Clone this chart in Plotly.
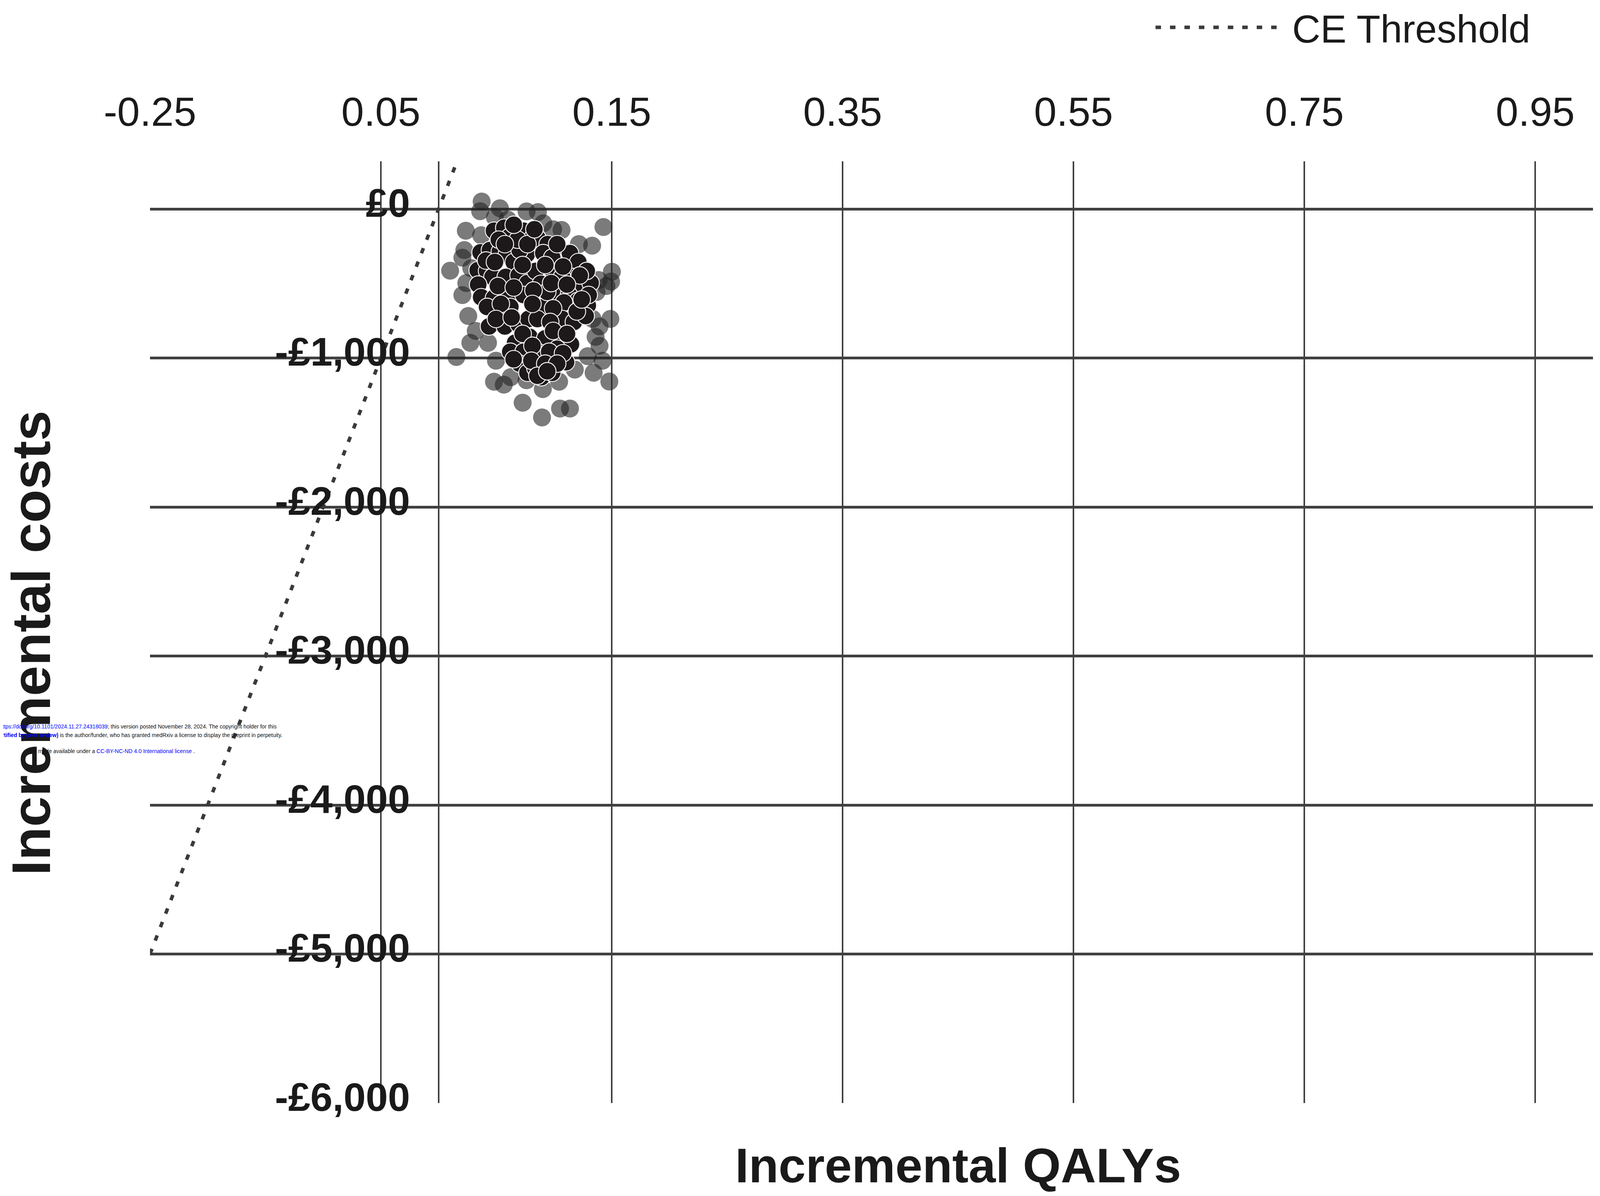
import plotly.graph_objects as go

# ---------------- data ----------------
# Probabilistic sensitivity analysis – outer (semi-transparent) simulations
grey_qaly = [0.0373, 0.0360, 0.0531, 0.0488, 0.0599, 0.0762, 0.0860, 0.0907, 0.0992, 0.1065,
             0.1428, 0.1215, 0.1330, 0.1386, 0.1501, 0.1454, 0.1368, 0.1488, 0.1334, 0.1394,
             0.1360, 0.1394, 0.1292, 0.1420, 0.1343, 0.1479, 0.1180, 0.0236, 0.0369, 0.0223,
             0.0206, 0.0283, 0.0100, 0.0206, 0.0257, 0.0322, 0.0275, 0.0428, 0.0154, 0.0497,
             0.0480, 0.0565, 0.0625, 0.0728, 0.0762, 0.0903, 0.0896, 0.1052, 0.1138, 0.1044,
             0.0240, 0.1494]
grey_cost = [50, -15, 5, -56, -71, -16, -21, -96, -136, -141,
             -121, -236, -246, -477, -421, -517, -557, -738, -738, -788,
             -858, -918, -988, -1018, -1099, -1158, -1078, -146, -176, -276,
             -327, -397, -414, -578, -718, -818, -898, -898, -993, -1018,
             -1159, -1179, -1129, -1300, -1149, -1209, -1399, -1339, -1339, -1159,
             -497, -487]

# Inner (solid) simulations
black_qaly = [0.0480, 0.0569, 0.0616, 0.0736, 0.0813, 0.0856, 0.0945,
              0.0364, 0.0445, 0.0531, 0.0591, 0.0651, 0.0762, 0.0907, 0.1061, 0.1138, 0.1210,
              0.0339, 0.0420, 0.0467, 0.0582, 0.0693, 0.0770, 0.0839, 0.0992, 0.1155, 0.1257,
              0.1317, 0.0343,
              0.0369, 0.0480, 0.0608, 0.0736, 0.0886, 0.1022, 0.1129, 0.1206, 0.1292, 0.0621,
              0.0924, 0.1086,
              0.0437, 0.0531, 0.0574, 0.0693, 0.0779, 0.0856, 0.1069, 0.1172, 0.1274,
              0.0663, 0.0787, 0.0924, 0.1061, 0.1146, 0.0621, 0.0736, 0.0856, 0.1027,
              0.0702, 0.0770, 0.0839, 0.0890, 0.0984, 0.1104,
              0.0702, 0.0984, 0.1283, 0.1069, 0.0941,
              0.0522, 0.0685, 0.0770, 0.0411, 0.0488, 0.0728, 0.0924, 0.1078, 0.1223, 0.0514,
              0.0651, 0.0822, 0.0975, 0.1112, 0.0420, 0.0539, 0.0813, 0.0992, 0.1198, 0.1300,
              0.0497, 0.0633, 0.0967, 0.0728, 0.0992, 0.1112, 0.0813, 0.0958, 0.1078, 0.0650,
              0.0804, 0.0924, 0.1027, 0.0856, 0.0941, 0.1240, 0.0574, 0.1027, 0.0651, 0.0830]
black_cost = [-146, -126, -186, -146, -196, -196, -236,
              -291, -276, -286, -306, -356, -306, -296, -326, -296, -356,
              -411, -416, -456, -456, -446, -497, -416, -416, -456, -517,
              -497, -507,
              -592, -597, -577, -577, -502, -587, -577, -617, -647, -657,
              -652, -627,
              -788, -698, -788, -773, -738, -738, -738, -758, -718,
              -898, -858, -868, -848, -908, -958, -958, -958, -938,
              -1038, -1099, -1068, -1129, -1099, -1028,
              -276, -326, -416, -456, -557,
              -206, -206, -236, -346, -356, -376, -376, -386, -446, -517,
              -527, -547, -497, -507, -657, -637, -637, -667, -688, -577,
              -738, -728, -758, -838, -818, -838, -918, -958, -968, -1008,
              -1018, -1038, -1038, -1119, -1089, -607, -236, -236, -106, -136]

# Cost-effectiveness threshold line (£20,000 per QALY)
ce_qaly = [-0.25, 0.016]
ce_cost = [-5000, 320]

x_tickvals = [-0.25, -0.05, 0.15, 0.35, 0.55, 0.75, 0.95]
x_ticktext = ["-0.25", "0.05", "0.15", "0.35", "0.55", "0.75", "0.95"]
y_tickvals = [0, -1000, -2000, -3000, -4000, -5000, -6000]
y_ticktext = ["£0", "-£1,000", "-£2,000", "-£3,000", "-£4,000", "-£5,000", "-£6,000"]

# ---------------- figure ----------------
FONT = "Liberation Sans, Arial, sans-serif"
GRID = "#404040"
TXT = "#1a1a1a"

fig = go.Figure()

fig.add_trace(go.Scatter(
    x=grey_qaly, y=grey_cost, mode="markers", showlegend=False, hoverinfo="skip",
    marker=dict(size=46, color="rgba(35,35,35,0.6)", line=dict(width=0)),
))
fig.add_trace(go.Scatter(
    x=black_qaly, y=black_cost, mode="markers", showlegend=False, hoverinfo="skip",
    marker=dict(size=45, color="#1d1819", line=dict(width=2.4, color="#f2f2f2")),
))
fig.add_trace(go.Scatter(
    x=ce_qaly, y=ce_cost, mode="lines", name="\u00a0CE Threshold",
    line=dict(color="#3a3a3a", width=9, dash="14px,23px"),
))

fig.update_layout(
    width=4080, height=3046,
    margin=dict(l=376, r=10, t=405, b=230, autoexpand=False),
    paper_bgcolor="white", plot_bgcolor="white",
    font=dict(family=FONT, color=TXT),
    showlegend=True,
    legend=dict(
        x=0.6955, y=1.1423, xanchor="left", yanchor="middle",
        font=dict(size=100, family=FONT, color=TXT),
        bgcolor="rgba(0,0,0,0)", itemwidth=317,
    ),
    xaxis=dict(
        range=[-0.25, 1.0], side="top",
        tickvals=x_tickvals, ticktext=x_ticktext,
        tickfont=dict(size=104, family=FONT, color=TXT),
        ticks="", ticklabelstandoff=69,
        showgrid=True, gridcolor=GRID, gridwidth=4,
        zeroline=True, zerolinecolor=GRID, zerolinewidth=4,
        showline=False, automargin=False,
    ),
    yaxis=dict(
        range=[-6000, 320], anchor="free", position=0.2,
        tickvals=y_tickvals, ticktext=y_ticktext,
        tickfont=dict(size=102, family=FONT, color=TXT, weight=700),
        ticks="", ticklabelstandoff=73, ticklabelshift=-16,
        showgrid=True, gridcolor=GRID, gridwidth=7,
        zeroline=True, zerolinecolor=GRID, zerolinewidth=7,
        showline=False, automargin=False,
    ),
)

fig.add_annotation(
    text="<b>Incremental QALYs</b>", xref="paper", yref="paper",
    x=0.560, y=-0.066, xanchor="center", yanchor="middle", showarrow=False,
    font=dict(size=125, family=FONT, color=TXT),
)
fig.add_annotation(
    text="<b>Incremental costs</b>", xref="paper", yref="paper",
    x=-0.0822, y=0.4886, xanchor="center", yanchor="middle", showarrow=False,
    textangle=-90, font=dict(size=140, family=FONT, color=TXT),
)

# medRxiv watermark text (partially cut at left edge, as in the source)
wm_font = dict(size=14, family=FONT, color="#111111")
fig.add_annotation(
    text="medRxiv preprint doi: <span style='color:#0000ff'>https://doi.org/10.1101/2024.11.27.24318039</span>; "
         "this version posted November 28, 2024. The copyright holder for this",
    xref="paper", yref="paper", x=-0.0268, y=0.3998, xanchor="center", yanchor="middle",
    showarrow=False, font=wm_font,
)
fig.add_annotation(
    text="<span style='color:#0000ff'><b>(which was not certified by peer review)</b></span> "
         "is the author/funder, who has granted medRxiv a license to display the preprint in perpetuity.",
    xref="paper", yref="paper", x=-0.0217, y=0.3907, xanchor="center", yanchor="middle",
    showarrow=False, font=wm_font,
)
fig.add_annotation(
    text="It is made available under a <span style='color:#0000ff'>CC-BY-NC-ND 4.0 International license</span> .",
    xref="paper", yref="paper", x=-0.0268, y=0.3737, xanchor="center", yanchor="middle",
    showarrow=False, font=wm_font,
)

fig.write_html("out.html")
